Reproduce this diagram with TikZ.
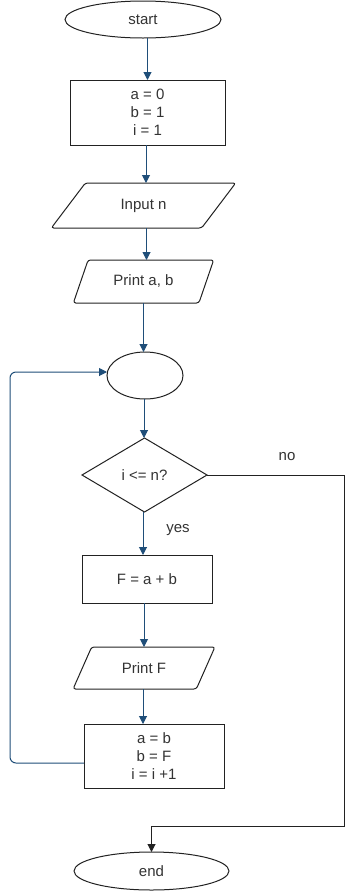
\documentclass[tikz,border=0pt]{standalone}
\usepackage{fontspec}
\setmainfont{Liberation Sans}
\usetikzlibrary{shapes.geometric,arrows.meta}
\definecolor{conblue}{HTML}{1F4E79}
\definecolor{txt}{HTML}{333333}
\definecolor{edge}{HTML}{222222}
\begin{document}
\begin{tikzpicture}[x=1pt,y=-1pt,
  every node/.style={font=\fontsize{15}{18}\selectfont, text=txt, inner sep=0pt, outer sep=0pt},
  shapebox/.style={draw=edge, line width=1pt},
  term/.style={shapebox, ellipse},
  procbox/.style={shapebox, rectangle, align=center},
  iobox/.style={shapebox, trapezium, trapezium stretches=true, rounded corners=2.5pt},
  conarrow/.style={draw=conblue, line width=1pt, -{Triangle[length=8pt,width=8pt]}},
  noarrow/.style={draw=edge, line width=1pt, -{Triangle[length=8pt,width=8pt]}},
  lbl/.style={text=txt}
]
\useasboundingbox (0,0) rectangle (355,892);
\fill[white] (0,0) rectangle (355,892);

\node[term, minimum width=156pt, minimum height=37pt] (start) at (143,19.5) {start};
\node[procbox, minimum width=155pt, minimum height=65pt] (init) at (147.5,112.5) {a = 0\\b = 1\\i = 1};
\node[iobox, minimum width=185pt, minimum height=45pt, trapezium left angle=45, trapezium right angle=135] (input) at (143.5,205.5) {Input n};
\node[iobox, minimum width=141pt, minimum height=43pt, trapezium left angle=58, trapezium right angle=122] (printab) at (143.5,281.5) {Print a, b};
\node[term, minimum width=76pt, minimum height=47pt] (conn) at (145,375.5) {};
\node[shapebox, diamond, minimum width=125pt, minimum height=74pt] (dia) at (144.5,475) {i <= n?};
\node[procbox, minimum width=130pt, minimum height=48pt] (fbox) at (147,579) {F = a + b};
\node[iobox, minimum width=142pt, minimum height=42pt, trapezium left angle=54.5, trapezium right angle=125.5] (printf) at (144,668) {Print F};
\node[procbox, minimum width=140pt, minimum height=64pt] (upd) at (154,756) {a = b\\b = F\\i = i +1};
\node[term, minimum width=155pt, minimum height=38pt] (end) at (151.5,871) {end};

\node[lbl] (nolbl) at (287,457) {no};
\node[lbl] (yeslbl) at (178,530) {yes};

\coordinate (loopL) at (10,372);
\coordinate (noC) at (344,826.5);

\draw[conarrow] (start.south -| init.north) -- (init.north);
\draw[conarrow] ([xshift=-1.5pt]init.south) -- ([xshift=-1.5pt]init.south |- input.north);
\draw[conarrow] ([xshift=3pt]input.south) -- ([xshift=3pt]input.south |- printab.north);
\draw[conarrow] (printab.south) -- (printab.south |- conn.north);
\draw[conarrow] ([xshift=-1pt]conn.south) -- ([xshift=-1pt]conn.south |- dia.north);
\draw[conarrow] ([xshift=-1.5pt]dia.south) -- ([xshift=-1.5pt]dia.south |- fbox.north);
\draw[conarrow] ([xshift=-3pt]fbox.south) -- ([xshift=-3pt]fbox.south |- printf.north);
\draw[conarrow] ([xshift=-1pt]printf.south) -- ([xshift=-1pt]printf.south |- upd.north);
\draw[conarrow, rounded corners=6pt] ([yshift=-7pt]upd.west) -| (loopL) -- (loopL -| conn.west);
\draw[noarrow] (dia.east) -| (noC) -| (end.north);
\end{tikzpicture}
\end{document}
